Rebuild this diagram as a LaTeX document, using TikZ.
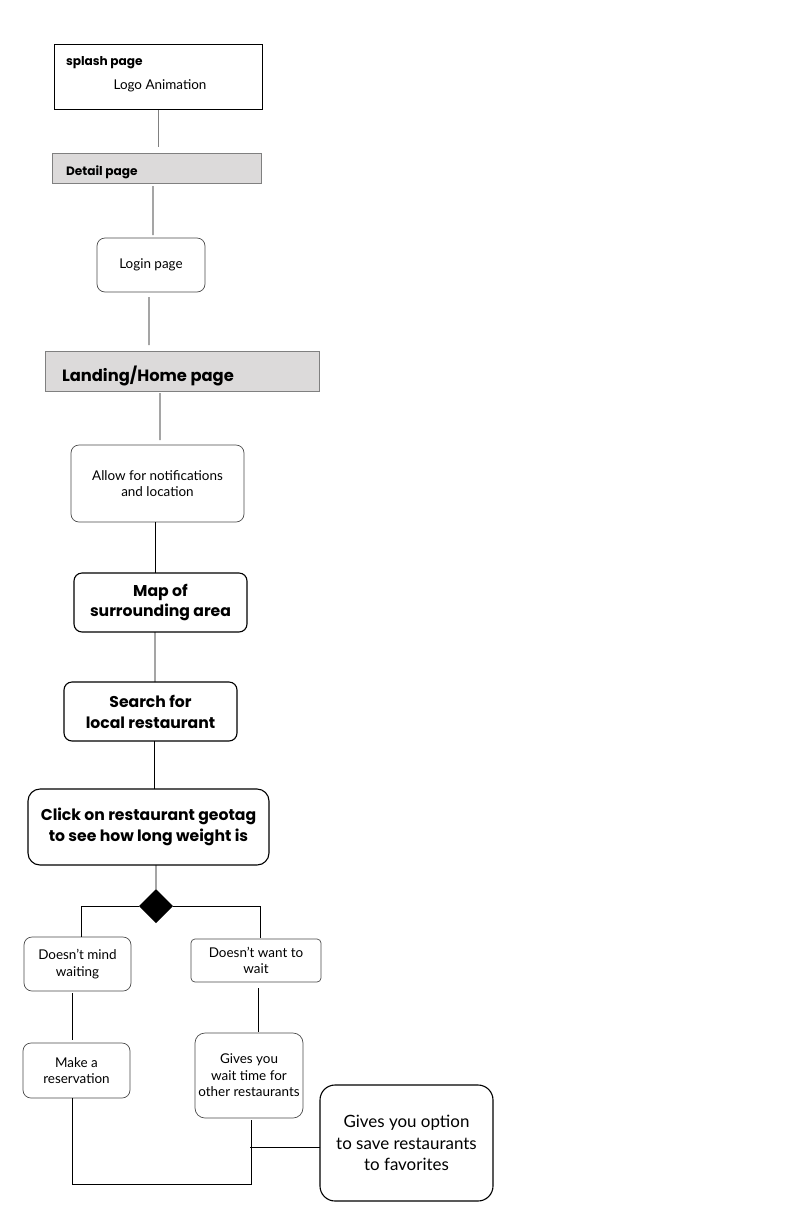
\documentclass[tikz,border=0pt]{standalone}
\usepackage{fontspec}
\setmainfont{Lato}
\newfontfamily\boldfam{Poppins}
\usetikzlibrary{shapes.geometric,calc}
\definecolor{boxgray}{HTML}{DCDADA}
\definecolor{edgegray}{HTML}{808080}
\begin{document}
\begin{tikzpicture}[x=1bp,y=-1bp,
  every node/.style={inner sep=0pt, outer sep=0pt},
  sq/.style={draw=black, line width=0.9bp},
  grayb/.style={draw=edgegray, fill=boxgray, line width=0.9bp},
  soft/.style={draw=black!70, rounded corners=8bp, line width=0.7bp, align=center, font=\fontsize{13.5}{16.5}\selectfont},
  strong/.style={draw=black, rounded corners=8bp, line width=1.1bp, align=center, font=\boldfam\fontsize{15.7}{21}\selectfont\bfseries},
  conn/.style={draw=black, line width=0.9bp},
  lbl/.style={font=\fontsize{13.5}{16}\selectfont},
  blbl/.style={font=\boldfam\fontsize{12.2}{16}\selectfont\bfseries},
  big/.style={font=\boldfam\fontsize{16.4}{21}\selectfont\bfseries}]
\useasboundingbox (0,0) rectangle (792,1224);
\fill[white] (0,0) rectangle (792,1224);

% splash
\node[sq, minimum width=208bp, minimum height=65bp, anchor=north west] (splash) at (54,44) {};
\node[blbl, anchor=base west] (splasht) at (66,65.5) {splash page};
\node[lbl, anchor=base] (logo) at (160,89.5) {Logo Animation};
% detail
\node[grayb, minimum width=209bp, minimum height=30bp, anchor=north west] (detail) at (52,153) {};
\node[blbl, anchor=base west] (detailt) at (66,175.5) {Detail page};
% login
\node[soft, minimum width=108bp, minimum height=54bp] (login) at (151,265) {Login page};
% landing
\node[grayb, minimum width=274bp, minimum height=40bp, anchor=north west] (landing) at (45,351) {};
\node[big, anchor=base west] (landingt) at (62,381) {Landing/Home page};
% allow
\node[soft, minimum width=173bp, minimum height=77bp] (allow) at (157.5,483.5) {Allow for notifications\\and location};
% map
\node[strong, minimum width=173bp, minimum height=59bp] (map) at (160.5,602.5) {Map of\\surrounding area};
% search
\node[strong, minimum width=173bp, minimum height=59bp] (search) at (150.5,711.5) {Search for\\local restaurant};
% click
\node[strong, rounded corners=12bp, minimum width=241bp, minimum height=76bp] (click) at (148.5,827) {Click on restaurant geotag\\to see how long weight is};
% diamond
\node[diamond, fill=black, minimum width=34bp, minimum height=34bp, aspect=1] (dia) at (156,906) {};
% branches
\node[soft, minimum width=107bp, minimum height=54bp] (dmw) at (77.5,964) {Doesn’t mind\\waiting};
\node[soft, rounded corners=4bp, minimum width=130bp, minimum height=43bp] (dww) at (256,960.5) {Doesn’t want to\\wait};
\node[soft, minimum width=107bp, minimum height=55bp] (res) at (76.5,1070.5) {Make a\\reservation};
\node[soft, rounded corners=10bp, minimum width=108bp, minimum height=85bp] (gwt) at (249,1075.5) {Gives you\\wait time for\\other restaurants};
\node[strong, font=\fontsize{17}{21.5}\selectfont, rounded corners=15bp, minimum width=173bp, minimum height=116bp] (gyo) at (406.5,1143) {Gives you option\\to save restaurants\\to favorites};

% connectors
\draw[conn, draw=edgegray, shorten >=6bp, shorten <=1bp] ($(splash.south)+(0,0)$) -- (detail.north -| splash.south);
\draw[conn, shorten <=3bp, shorten >=3bp] ($(detail.south)+(-3.5,0)$) -- ($(login.north)+(2,0)$);
\draw[conn, shorten <=5bp, shorten >=6bp] ($(login.south)+(-2,0)$) -- ($(landing.north)+(-33,0)$);
\draw[conn, shorten <=2bp, shorten >=5bp] ($(landing.south)+(-22,0)$) -- ($(allow.north)+(2.5,0)$);
\draw[conn] ($(allow.south)+(-2.5,0)$) -- ($(map.north)+(-5.5,0)$);
\draw[conn] ($(map.south)+(-5.5,0)$) -- ($(search.north)+(4.5,0)$);
\draw[conn] ($(search.south)+(3.5,0)$) -- ($(click.north)+(5.5,0)$);
\draw[conn] ($(click.south)+(7.5,0)$) -- (dia.north);
\draw[conn] (dia.west) -| ($(dmw.north)+(3.5,0)$);
\draw[conn, shorten >=1bp] (dia.east) -| ($(dww.north)+(4,0)$);
\draw[conn, shorten <=2bp, shorten >=3bp] ($(dmw.south)+(-5.5,0)$) -- ($(res.north)+(-4.5,0)$);
\draw[conn, shorten <=6bp, shorten >=1bp] ($(dww.south)+(2,0)$) -- ($(gwt.north)+(9,0)$);
\coordinate (j1) at (72,1184);
\coordinate (j2) at (251,1184);
\coordinate (j3) at (250,1147);
\draw[conn] ($(res.south)+(-4.5,0)$) -- (j1) -- (j2) -- ($(gwt.south)+(2,2)$);
\draw[conn] ($(gyo.west)+(0,4)$) -- (j3);
\end{tikzpicture}
\end{document}
